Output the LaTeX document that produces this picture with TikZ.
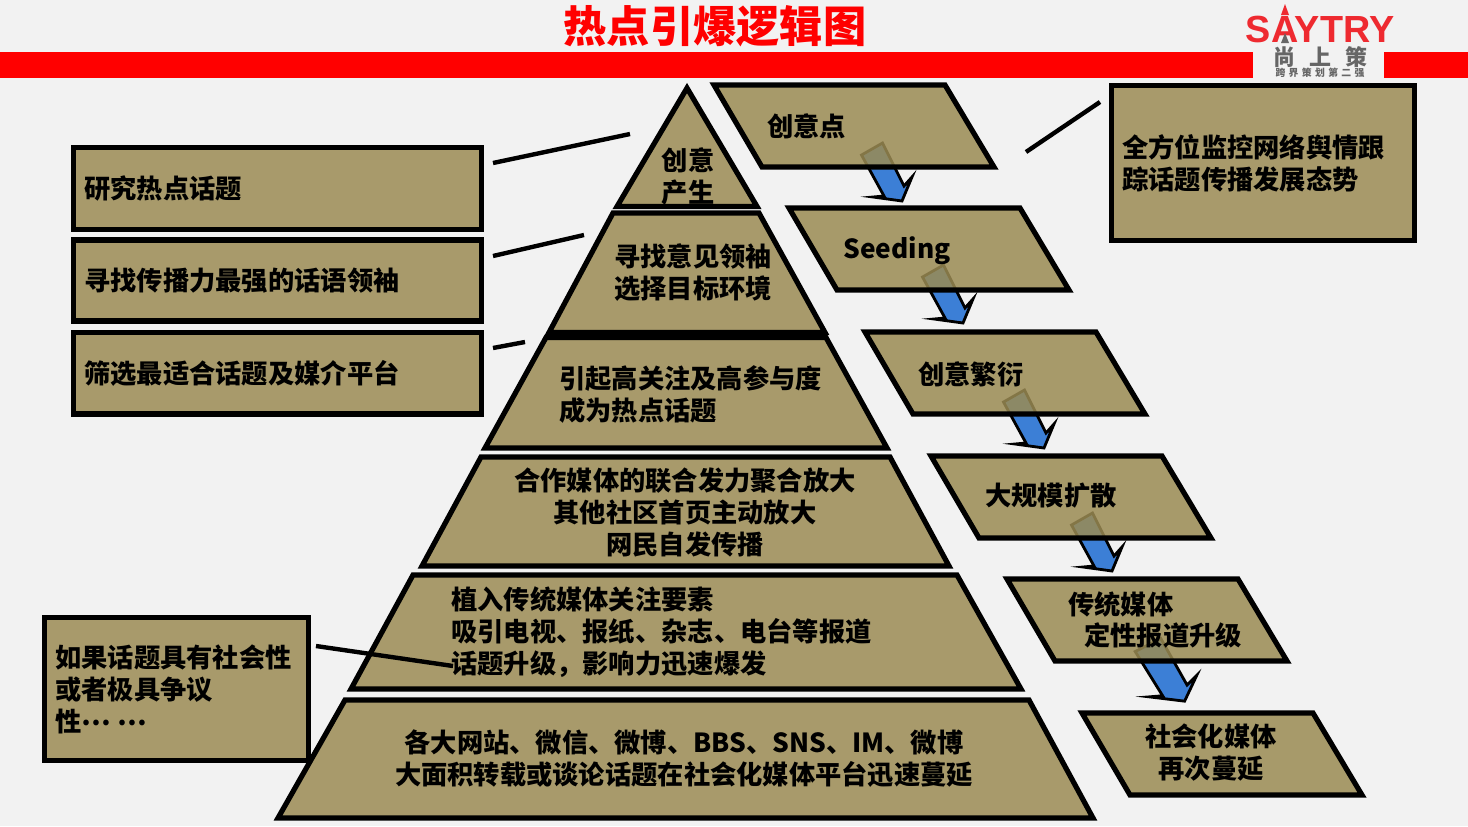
\documentclass[tikz,border=0pt]{standalone}
\usepackage{fontspec}
\setmainfont{Noto Sans CJK SC}
\newfontfamily\logofont{Liberation Sans}
\definecolor{pagegray}{HTML}{F2F2F2}
\definecolor{khaki}{HTML}{A89A6B}
\definecolor{khakibase}{HTML}{9B8B53}
\definecolor{arrowblue}{HTML}{3C7FD6}
\definecolor{logored}{HTML}{EE2A30}
\definecolor{logogray}{HTML}{666666}
\tikzset{
	layer/.style={draw=black,line width=2.95pt,fill=khaki},
	stepbox/.style={draw=black,line width=2.95pt,fill=khakibase,fill opacity=.85,draw opacity=1},
	flowarrow/.style={draw=black,line width=1.6pt,fill=arrowblue},
	leader/.style={draw=black,line width=2.5pt},
	txt/.style={inner sep=0pt,font=\fontsize{14.95}{18.2}\selectfont\bfseries},
	txtl/.style={txt,anchor=west,align=left},
	txtc/.style={txt,align=center},
}

\begin{document}
\begin{tikzpicture}[x=.02cm,y=-.02cm]
	\fill[pagegray] (0,0) rectangle (1468,826);
	\useasboundingbox (0,0) rectangle (1468,826);
	% header
	\fill[red] (0,52) rectangle (1253,78);
	\fill[red] (1384,52) rectangle (1468,78);
	\node[inner sep=0pt,text=red,font=\fontsize{24.6}{28}\selectfont\bfseries] (title) at (715,26) {热点引爆逻辑图};
	\node[inner sep=0pt,text=logored,font=\fontsize{21.5}{24}\selectfont\logofont\bfseries] (logo) at (1320,29) {SAYTRY};
	\fill[logored] (1285,4) -- (1281,15) -- (1289,15) -- cycle;
	\fill[logogray] (1285,33) -- (1281,43) -- (1289,43) -- cycle;
	\node[inner sep=0pt,text=logogray,font=\fontsize{12.5}{14}\selectfont\bfseries] (logocn) at (1320,57) {尚\hspace{8pt}上\hspace{8pt}策};
	\node[inner sep=0pt,text=logogray,font=\fontsize{5.6}{6}\selectfont\bfseries] (logosub) at (1320,73) {跨\hspace{1.9pt}界\hspace{1.9pt}策\hspace{1.9pt}划\hspace{1.9pt}第\hspace{1.9pt}二\hspace{1.9pt}强};

	% arrows between the steps
	\coordinate (tail1) at (872,149);
	\coordinate (tail2) at (933,271);
	\coordinate (tail3) at (1014,396);
	\coordinate (tail4) at (1082,519);
	\foreach \i in {1,...,4} {
		\begin{scope}[shift={(tail\i)}]
			\draw[flowarrow] (-10.5,6) -- (10.5,-6) -- (32,37) -- (40,28) -- (30,52) -- (1,48) -- (12,47) -- cycle;
		\end{scope}
	}
	\coordinate (tail5) at (1148,645);
	\begin{scope}[shift={(tail5)},xscale=1.22,yscale=1.08]
		\draw[flowarrow] (-10.5,6) -- (10.5,-6) -- (32,37) -- (40,28) -- (30,52) -- (1,48) -- (12,47) -- cycle;
	\end{scope}

	% right column
	\foreach \sx/\sy in {0/0,75/123,151/247,217/371,293/494,368/628} {
		\draw[stepbox] (714+\sx,85+\sy) -- (945+\sx,85+\sy) -- (994+\sx,167+\sy) -- (762+\sx,167+\sy) -- cycle;
	}

	% pyramid
	\draw[layer] (687,88) -- (757,206.5) -- (617,206.5) -- cycle;
	\draw[layer] (613,213) -- (759,213) -- (825,332.5) -- (549,332.5) -- cycle;
	\draw[layer] (546,337.5) -- (826,337.5) -- (887,448) -- (485,448) -- cycle;
	\draw[layer] (481,457) -- (890,457) -- (949,566) -- (422,566) -- cycle;
	\draw[layer] (413,575) -- (957,575) -- (1021,689) -- (351,689) -- cycle;
	\draw[layer] (345,700) -- (1029,700) -- (1093,818) -- (278,818) -- cycle;

	% side boxes
	\draw[layer] (73.5,147.5) rectangle (481.5,229.5);
	\draw[layer] (73.5,240) rectangle (481.5,321);
	\draw[layer] (73.5,332.5) rectangle (481.5,414);
	\draw[layer] (44.5,617.5) rectangle (308.5,760.5);
	\draw[layer] (1111.5,85.5) rectangle (1414.5,240.5);

	% leader lines
	\coordinate (lead1a) at (493,163);
	\coordinate (lead1b) at (630,134);
	\coordinate (lead2a) at (493,256);
	\coordinate (lead2b) at (584,235);
	\coordinate (lead3a) at (493,348);
	\coordinate (lead3b) at (525,342);
	\coordinate (lead4a) at (316,646);
	\coordinate (lead4b) at (453,666);
	\coordinate (lead5a) at (1026,152);
	\coordinate (lead5b) at (1100,102);
	\foreach \i in {1,...,5} {
		\draw[leader] (lead\i a) -- (lead\i b);
	}

	% texts
	\node[txtl] (research) at (84,188) {研究热点话题};
	\node[txtl] (leaders) at (84,281) {寻找传播力最强的话语领袖};
	\node[txtl] (media) at (84,373) {筛选最适合话题及媒介平台};
	\node[txtl] (social) at (55,689) {如果话题具有社会性\\或者极具争议\\性\raisebox{2.9pt}{… …}};
	\node[txtl] (monitor) at (1122,163) {全方位监控网络舆情跟\\踪话题传播发展态势};
	\node[txtc] (top) at (688,177) {创意\\产生};
	\node[txtl] (second) at (614,273) {寻找意见领袖\\选择目标环境};
	\node[txtl] (third) at (559,394) {引起高关注及高参与度\\成为热点话题};
	\node[txtc] (fourth) at (685,512) {合作媒体的联合发力聚合放大\\其他社区首页主动放大\\网民自发传播};
	\node[txtl] (fifth) at (451,632) {植入传统媒体关注要素\\吸引电视、报纸、杂志、电台等报道\\话题升级，影响力迅速爆发};
	\node[txtc] (sixth) at (684,759) {各大网站、微信、微博、BBS、SNS、IM、微博\\大面积转载或谈论话题在社会化媒体平台迅速蔓延};
	\node[txtl] (idea) at (767,126) {创意点};
	\node[txtl] (seeding) at (843,251) {Seeding};
	\node[txtl] (spread) at (918,374) {创意繁衍};
	\node[txtl] (diffuse) at (985,496) {大规模扩散};
	\node[txtl] (press) at (1068,620) {传统媒体\\\hspace*{9.1pt}定性报道升级};
	\node[txtc] (again) at (1211,753) {社会化媒体\\再次蔓延};
\end{tikzpicture}
\end{document}
